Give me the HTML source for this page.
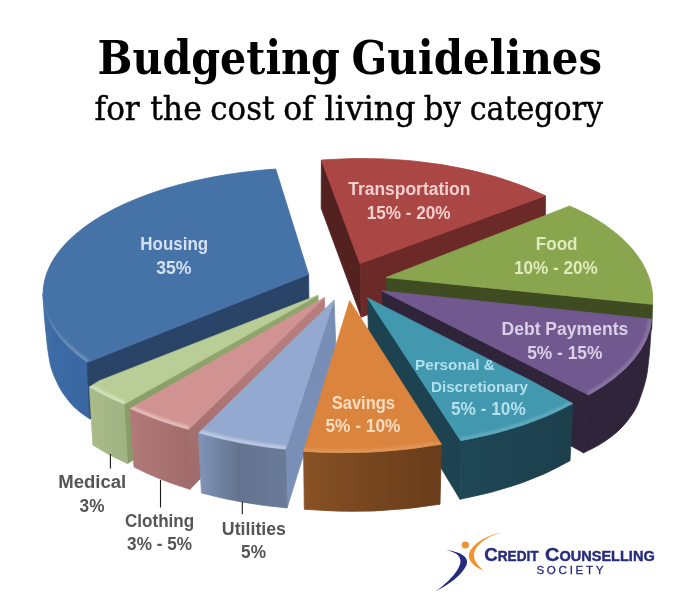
<!DOCTYPE html>
<html lang="en">
<head>
<meta charset="utf-8">
<title>Budgeting Guidelines for the cost of living by category</title>
<style>
html,body{margin:0;padding:0;background:#fff;}
body{width:700px;height:609px;overflow:hidden;font-family:"Liberation Sans",sans-serif;}
svg{display:block;}
text{white-space:pre;}
</style>
</head>
<body>
<svg width="700" height="609" viewBox="0 0 700 609">
<defs>
<filter id="bl" x="-20%" y="-20%" width="140%" height="140%"><feGaussianBlur stdDeviation="1.3"/></filter>
<clipPath id="c1"><path d="M382.0,291.0 L651.7,319.0 A274.2,126.3 0 0 1 588.6,395.0 Z"/></clipPath>
<linearGradient id="gh" gradientUnits="userSpaceOnUse" x1="43" y1="0" x2="90" y2="0"><stop offset="0" stop-color="#4370a6"/><stop offset="0.22" stop-color="#3c6aa4"/><stop offset="1" stop-color="#3a67a1"/></linearGradient>
<clipPath id="c2"><path d="M308.6,274.3 L275.7,169.0 A274.2,126.3 0 0 0 87.1,362.5 Z"/></clipPath>
<linearGradient id="gm" gradientUnits="userSpaceOnUse" x1="89" y1="0" x2="127" y2="0"><stop offset="0" stop-color="#a9bc8a"/><stop offset="1" stop-color="#9fb281"/></linearGradient>
<linearGradient id="gms" gradientUnits="userSpaceOnUse" x1="126" y1="440" x2="230" y2="350"><stop offset="0" stop-color="#879c66"/><stop offset="1" stop-color="#8fa56c"/></linearGradient>
<clipPath id="c3"><path d="M317.9,295.2 L99.0,380.9 L89.4,387.0 A274.2,126.3 0 0 0 124.0,404.3 Z"/></clipPath>
<linearGradient id="gc" gradientUnits="userSpaceOnUse" x1="130" y1="0" x2="190" y2="0"><stop offset="0" stop-color="#b27a79"/><stop offset="1" stop-color="#a06b6a"/></linearGradient>
<linearGradient id="gcs" gradientUnits="userSpaceOnUse" x1="192" y1="465" x2="270" y2="360"><stop offset="0" stop-color="#a06d6c"/><stop offset="1" stop-color="#b57d7c"/></linearGradient>
<clipPath id="c4"><path d="M324.3,297.7 L130.0,408.6 A274.2,126.3 0 0 0 188.5,429.5 Z"/></clipPath>
<linearGradient id="gu" gradientUnits="userSpaceOnUse" x1="199" y1="0" x2="287" y2="0"><stop offset="0" stop-color="#8094b8"/><stop offset="0.45" stop-color="#63738f"/><stop offset="1" stop-color="#6a7b99"/></linearGradient>
<linearGradient id="gus" gradientUnits="userSpaceOnUse" x1="290" y1="500" x2="325" y2="380"><stop offset="0" stop-color="#7c91b7"/><stop offset="1" stop-color="#788eb6"/></linearGradient>
<clipPath id="c5"><path d="M334.0,300.0 L198.6,432.9 A274.2,126.3 0 0 0 285.7,449.3 Z"/></clipPath>
<linearGradient id="gp" gradientUnits="userSpaceOnUse" x1="460" y1="0" x2="572" y2="0"><stop offset="0" stop-color="#1f4756"/><stop offset="1" stop-color="#1c3f4c"/></linearGradient>
<clipPath id="c6"><path d="M367.4,297.9 L530.0,380.3 L572.9,403.6 A274.2,126.3 0 0 1 460.7,440.7 Z"/></clipPath>
<linearGradient id="gs" gradientUnits="userSpaceOnUse" x1="304" y1="0" x2="441" y2="0"><stop offset="0" stop-color="#8a5225"/><stop offset="0.3" stop-color="#7c4a22"/><stop offset="1" stop-color="#693c1a"/></linearGradient>
<clipPath id="c7"><path d="M349.6,300.7 L441.4,444.3 A274.2,126.3 0 0 1 303.6,451.4 Z"/></clipPath>
</defs>
<rect width="700" height="609" fill="#ffffff"/>
<g id="pie">
<path d="M360.0,263.6 L321.4,160.0 L321.2,208.2 L361.3,317.2 Z" fill="#532120" stroke="#532120" stroke-width="0.8" stroke-linejoin="round" class="red-sa"/>
<path d="M360.0,263.6 L545.4,195.7 L545.4,243.0 L361.3,317.2 Z" fill="#6b2a28" stroke="#6b2a28" stroke-width="0.8" stroke-linejoin="round" class="red-sb"/>
<path d="M360.0,263.6 L321.4,160.0 A268.4,137.8 0 0 1 545.4,195.7 Z" fill="#aa4643" stroke="#aa4643" stroke-width="0.8" stroke-linejoin="round" class="red-top"/>
<path d="M386.0,277.5 L652.6,304.3 L651.7,330.0 L389.0,327.5 Z" fill="#3f4c22" stroke="#3f4c22" stroke-width="0.8" stroke-linejoin="round" class="food-sb"/>
<path d="M386.0,277.5 L569.6,206.0 A203.7,116.3 0 0 1 652.6,304.3 Z" fill="#89a54e" stroke="#89a54e" stroke-width="0.8" stroke-linejoin="round" class="food-top"/>
<path d="M651.7,319.0 C651.4,323.4 650.6,337.7 650.0,345.7 C649.4,353.7 648.6,361.3 647.9,367.0 C647.2,372.7 646.8,375.4 645.7,380.0 C644.6,384.6 643.1,389.5 641.4,394.3 C639.7,399.1 638.3,403.8 635.7,408.6 C633.1,413.4 629.3,418.6 625.7,422.9 C622.1,427.2 618.6,430.7 614.3,434.3 C610.0,437.9 605.1,441.2 600.0,444.3 C594.9,447.4 586.3,451.5 583.6,452.9 L588.6,395.0 A274.2,126.3 0 0 0 651.7,319.0 Z" fill="#2f2439" stroke="#2f2439" stroke-width="0.8" stroke-linejoin="round" class="debt-out"/>
<path d="M382.0,291.0 L588.6,395.0 L583.6,452.9 L385.0,341.0 Z" fill="#2f2439" stroke="#2f2439" stroke-width="0.8" stroke-linejoin="round" class="debt-sb"/>
<path d="M382.0,291.0 L651.7,319.0 A274.2,126.3 0 0 1 588.6,395.0 Z" fill="#71588f" stroke="#71588f" stroke-width="0.8" stroke-linejoin="round" class="debt-top"/>
<g clip-path="url(#c1)"><path d="M651.7,319.0 A274.2,126.3 0 0 1 588.6,395.0" fill="none" stroke="#ffffff" stroke-opacity="0.16" stroke-width="7" stroke-linecap="butt" filter="url(#bl)"/></g>
<path d="M43.0,293.6 C43.2,297.3 43.7,308.5 44.3,315.7 C44.9,322.9 45.8,331.3 46.4,337.0 C47.0,342.7 47.1,344.7 47.9,350.0 C48.7,355.3 49.6,362.7 51.4,368.6 C53.2,374.6 56.2,381.0 58.6,385.7 C61.0,390.4 63.3,393.7 65.7,397.0 C68.1,400.3 70.5,403.2 72.9,405.7 C75.3,408.2 77.7,410.1 80.0,412.0 C82.3,413.9 85.3,415.8 87.0,417.0 C88.7,418.2 89.5,418.7 90.0,419.0 L87.1,362.5 A274.2,126.3 0 0 1 43.0,293.6 Z" fill="url(#gh)" stroke="url(#gh)" stroke-width="0.8" stroke-linejoin="round" class="h-out"/>
<path d="M87.1,362.5 L308.6,274.3 L309.3,330.0 L90.0,419.0 Z" fill="#2a4468" stroke="#2a4468" stroke-width="0.8" stroke-linejoin="round" class="h-in"/>
<path d="M308.6,274.3 L275.7,169.0 A274.2,126.3 0 0 0 87.1,362.5 Z" fill="#4572a7" stroke="#4572a7" stroke-width="0.8" stroke-linejoin="round" class="h-top"/>
<g clip-path="url(#c2)"><path d="M60.0,240.0 A274.2,126.3 0 0 0 87.1,362.5" fill="none" stroke="#ffffff" stroke-opacity="0.2" stroke-width="7" stroke-linecap="butt" filter="url(#bl)"/></g>
<path d="M317.9,295.2 L124.0,404.3 L127.5,463.6 L319.9,345.2 Z" fill="url(#gms)" stroke="url(#gms)" stroke-width="0.8" stroke-linejoin="round" class="med-sb"/>
<path d="M89.4,387.0 A274.2,126.3 0 0 0 124.0,404.3 L127.5,463.6 A270.0,130.0 0 0 1 92.9,445.0 Z" fill="url(#gm)" stroke="url(#gm)" stroke-width="0.8" stroke-linejoin="round" class="med-out"/>
<path d="M317.9,295.2 L99.0,380.9 L89.4,387.0 A274.2,126.3 0 0 0 124.0,404.3 Z" fill="#b9cd96" stroke="#b9cd96" stroke-width="0.8" stroke-linejoin="round" class="med-top"/>
<g clip-path="url(#c3)"><path d="M89.4,387.0 A274.2,126.3 0 0 0 124.0,404.3" fill="none" stroke="#ffffff" stroke-opacity="0.35" stroke-width="7" stroke-linecap="butt" filter="url(#bl)"/></g>
<path d="M324.3,297.7 L188.5,429.5 L190.0,489.3 L326.3,347.7 Z" fill="url(#gcs)" stroke="url(#gcs)" stroke-width="0.8" stroke-linejoin="round" class="clo-sb"/>
<path d="M130.0,408.6 A274.2,126.3 0 0 0 188.5,429.5 L190.0,489.3 A270.0,130.0 0 0 1 134.0,467.0 Z" fill="url(#gc)" stroke="url(#gc)" stroke-width="0.8" stroke-linejoin="round" class="clo-out"/>
<path d="M324.3,297.7 L130.0,408.6 A274.2,126.3 0 0 0 188.5,429.5 Z" fill="#d19392" stroke="#d19392" stroke-width="0.8" stroke-linejoin="round" class="clo-top"/>
<g clip-path="url(#c4)"><path d="M130.0,408.6 A274.2,126.3 0 0 0 188.5,429.5" fill="none" stroke="#ffffff" stroke-opacity="0.35" stroke-width="7" stroke-linecap="butt" filter="url(#bl)"/></g>
<path d="M334.0,300.0 L285.7,449.3 L287.1,507.9 L336.0,350.0 Z" fill="url(#gus)" stroke="url(#gus)" stroke-width="0.8" stroke-linejoin="round" class="uti-sb"/>
<path d="M198.6,432.9 A274.2,126.3 0 0 0 285.7,449.3 L287.1,507.9 A270.0,130.0 0 0 1 201.4,492.9 Z" fill="url(#gu)" stroke="url(#gu)" stroke-width="0.8" stroke-linejoin="round" class="uti-out"/>
<path d="M334.0,300.0 L198.6,432.9 A274.2,126.3 0 0 0 285.7,449.3 Z" fill="#93a9cf" stroke="#93a9cf" stroke-width="0.8" stroke-linejoin="round" class="uti-top"/>
<g clip-path="url(#c5)"><path d="M198.6,432.9 A274.2,126.3 0 0 0 285.7,449.3" fill="none" stroke="#ffffff" stroke-opacity="0.35" stroke-width="7" stroke-linecap="butt" filter="url(#bl)"/></g>
<path d="M367.4,297.9 L460.7,440.7 L460.0,499.3 L369.0,348.9 Z" fill="#1d4250" stroke="#1d4250" stroke-width="0.8" stroke-linejoin="round" class="per-sb"/>
<path d="M572.9,403.6 A274.2,126.3 0 0 1 460.7,440.7 L460.0,499.3 A270.0,130.0 0 0 0 570.0,460.7 Z" fill="url(#gp)" stroke="url(#gp)" stroke-width="0.8" stroke-linejoin="round" class="per-out"/>
<path d="M367.4,297.9 L530.0,380.3 L572.9,403.6 A274.2,126.3 0 0 1 460.7,440.7 Z" fill="#4198af" stroke="#4198af" stroke-width="0.8" stroke-linejoin="round" class="per-top"/>
<g clip-path="url(#c6)"><path d="M572.9,403.6 A274.2,126.3 0 0 1 460.7,440.7" fill="none" stroke="#ffffff" stroke-opacity="0.16" stroke-width="7" stroke-linecap="butt" filter="url(#bl)"/></g>
<path d="M441.4,444.3 A274.2,126.3 0 0 1 303.6,451.4 L304.3,509.3 A270.0,130.0 0 0 0 440.0,504.2 Z" fill="url(#gs)" stroke="url(#gs)" stroke-width="0.8" stroke-linejoin="round" class="sav-out"/>
<path d="M349.6,300.7 L441.4,444.3 A274.2,126.3 0 0 1 303.6,451.4 Z" fill="#db843d" stroke="#db843d" stroke-width="0.8" stroke-linejoin="round" class="sav-top"/>
<g clip-path="url(#c7)"><path d="M441.4,444.3 A274.2,126.3 0 0 1 303.6,451.4" fill="none" stroke="#ffffff" stroke-opacity="0.13" stroke-width="7" stroke-linecap="butt" filter="url(#bl)"/></g>
</g>
<g id="labels">
<text font-family="'DejaVu Serif Condensed', 'Liberation Serif', serif" font-weight="bold" fill="#000"><tspan x="97.57" y="74.4" font-size="46" textLength="242.33" lengthAdjust="spacingAndGlyphs">Budgeting</tspan> <tspan x="351.55" y="74.4" font-size="46" textLength="250.48" lengthAdjust="spacingAndGlyphs">Guidelines</tspan></text>
<text font-family="'DejaVu Serif Condensed', 'Liberation Serif', serif" font-weight="normal" fill="#000" stroke="#000" stroke-width="0.4"><tspan x="94.62" y="119.6" font-size="34" textLength="45.13" lengthAdjust="spacingAndGlyphs">for</tspan> <tspan x="150.15" y="119.6" font-size="34" textLength="51.68" lengthAdjust="spacingAndGlyphs">the</tspan> <tspan x="210.33" y="119.6" font-size="34" textLength="64.04" lengthAdjust="spacingAndGlyphs">cost</tspan> <tspan x="283.21" y="119.6" font-size="34" textLength="30.48" lengthAdjust="spacingAndGlyphs">of</tspan> <tspan x="324.44" y="119.6" font-size="34" textLength="91.04" lengthAdjust="spacingAndGlyphs">living</tspan> <tspan x="423.77" y="119.6" font-size="34" textLength="37.08" lengthAdjust="spacingAndGlyphs">by</tspan> <tspan x="469.66" y="119.6" font-size="34" textLength="133.40" lengthAdjust="spacingAndGlyphs">category</tspan></text>
<text x="140.34" y="249.9" font-family="'Liberation Sans', sans-serif" font-size="17.6" font-weight="bold" fill="#d5e0f0" textLength="67.77" lengthAdjust="spacingAndGlyphs">Housing</text>
<text x="156.20" y="273.9" font-family="'Liberation Sans', sans-serif" font-size="17.6" font-weight="bold" fill="#d5e0f0" textLength="35.25" lengthAdjust="spacingAndGlyphs">35%</text>
<text x="348.20" y="195.0" font-family="'Liberation Sans', sans-serif" font-size="17.6" font-weight="bold" fill="#f0cfce" textLength="122.24" lengthAdjust="spacingAndGlyphs">Transportation</text>
<text x="366.63" y="219.0" font-family="'Liberation Sans', sans-serif" font-size="17.6" font-weight="bold" fill="#f0cfce" textLength="83.81" lengthAdjust="spacingAndGlyphs">15% - 20%</text>
<text x="535.83" y="249.8" font-family="'Liberation Sans', sans-serif" font-size="17.6" font-weight="bold" fill="#dfeabf" textLength="41.68" lengthAdjust="spacingAndGlyphs">Food</text>
<text x="514.03" y="274.0" font-family="'Liberation Sans', sans-serif" font-size="17.6" font-weight="bold" fill="#dfeabf" textLength="83.81" lengthAdjust="spacingAndGlyphs">10% - 20%</text>
<text x="501.50" y="334.8" font-family="'Liberation Sans', sans-serif" font-size="17.6" font-weight="bold" fill="#dccfe8" textLength="126.78" lengthAdjust="spacingAndGlyphs">Debt Payments</text>
<text x="527.21" y="359.0" font-family="'Liberation Sans', sans-serif" font-size="17.6" font-weight="bold" fill="#dccfe8" textLength="75.24" lengthAdjust="spacingAndGlyphs">5% - 15%</text>
<text x="414.99" y="370.4" font-family="'Liberation Sans', sans-serif" font-size="15.1" font-weight="bold" fill="#b4dfec" textLength="79.82" lengthAdjust="spacingAndGlyphs">Personal &amp;</text>
<text x="430.99" y="392.2" font-family="'Liberation Sans', sans-serif" font-size="15.1" font-weight="bold" fill="#b4dfec" textLength="97.00" lengthAdjust="spacingAndGlyphs">Discretionary</text>
<text x="450.91" y="415.0" font-family="'Liberation Sans', sans-serif" font-size="17.6" font-weight="bold" fill="#b4dfec" textLength="74.83" lengthAdjust="spacingAndGlyphs">5% - 10%</text>
<text x="331.83" y="409.3" font-family="'Liberation Sans', sans-serif" font-size="17.6" font-weight="bold" fill="#fbdcc0" textLength="63.11" lengthAdjust="spacingAndGlyphs">Savings</text>
<text x="325.51" y="432.4" font-family="'Liberation Sans', sans-serif" font-size="17.6" font-weight="bold" fill="#fbdcc0" textLength="74.93" lengthAdjust="spacingAndGlyphs">5% - 10%</text>
<text x="58.24" y="488.3" font-family="'Liberation Sans', sans-serif" font-size="17.6" font-weight="bold" fill="#555555" textLength="68.01" lengthAdjust="spacingAndGlyphs">Medical</text>
<text x="79.61" y="511.6" font-family="'Liberation Sans', sans-serif" font-size="17.6" font-weight="bold" fill="#555555" textLength="24.83" lengthAdjust="spacingAndGlyphs">3%</text>
<text x="125.02" y="526.5" font-family="'Liberation Sans', sans-serif" font-size="17.6" font-weight="bold" fill="#555555" textLength="69.19" lengthAdjust="spacingAndGlyphs">Clothing</text>
<text x="127.11" y="550.3" font-family="'Liberation Sans', sans-serif" font-size="17.6" font-weight="bold" fill="#555555" textLength="64.83" lengthAdjust="spacingAndGlyphs">3% - 5%</text>
<text x="221.89" y="534.5" font-family="'Liberation Sans', sans-serif" font-size="17.6" font-weight="bold" fill="#555555" textLength="64.10" lengthAdjust="spacingAndGlyphs">Utilities</text>
<text x="241.11" y="557.6" font-family="'Liberation Sans', sans-serif" font-size="17.6" font-weight="bold" fill="#555555" textLength="24.93" lengthAdjust="spacingAndGlyphs">5%</text>
<path d="M110.4,454 V468.6 M160.5,480 V507.4 M242.3,501.7 V514.3" stroke="#1a1a1a" stroke-width="1.1" fill="none"/>
<g id="logo">
<path d="M446,550.2 C453,550.6 461,552.6 465,557 C468.5,561 467.5,565 462.9,570.7 C457,578.5 447,585.5 435.7,591.3 C445,584.5 452.5,577.5 457,570.5 C460.5,565 461.5,561 459.3,557 C457,553.3 452.5,551.4 446,550.2 Z" fill="#262b7e"/>
<path d="M501.6,532 C489,535 478.5,540.5 472.5,547.5 C468.5,552.3 467.8,556.5 470.5,561 C473.2,565.5 477.5,568.5 483.8,570.6 C479,567 476,563.2 474.6,559 C473.3,555 474,551 477,547 C482,540.5 490.5,535.5 501.6,532 Z" fill="#ef9230"/>
<circle cx="465.4" cy="545" r="3.6" fill="#ef9230"/>
<text x="484.3" y="561.3" font-family="'Liberation Sans', sans-serif" font-weight="bold" fill="#262b7e" stroke="#262b7e" stroke-width="0.4" textLength="54.3" lengthAdjust="spacingAndGlyphs"><tspan font-size="19.2">C</tspan><tspan font-size="14">REDIT</tspan></text>
<text x="545" y="561.3" font-family="'Liberation Sans', sans-serif" font-weight="bold" fill="#262b7e" stroke="#262b7e" stroke-width="0.4" textLength="109.7" lengthAdjust="spacingAndGlyphs"><tspan font-size="19.2">C</tspan><tspan font-size="14">OUNSELLING</tspan></text>
<text x="536.4" y="574.4" font-family="'Liberation Sans', sans-serif" font-size="11.6" fill="#262b7e" stroke="#262b7e" stroke-width="0.3" textLength="67.2" lengthAdjust="spacing">SOCIETY</text>
</g>
</g>
</svg>
</body>
</html>
